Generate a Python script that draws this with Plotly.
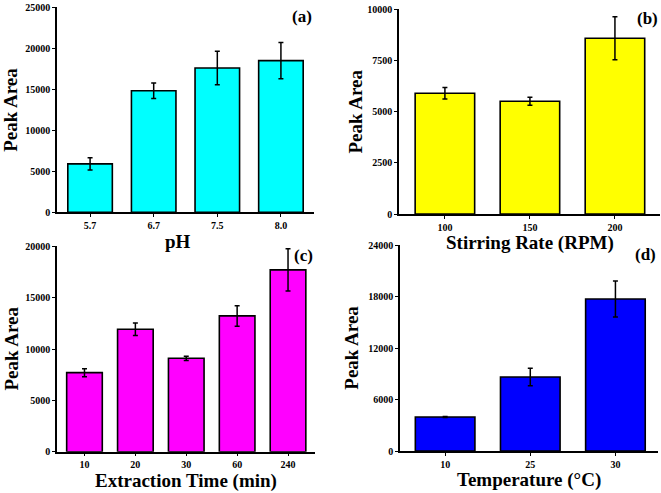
import plotly.graph_objects as go

# ---- data ----
ph_cats = ["5.7", "6.7", "7.5", "8.0"]
ph_vals = [5900, 14830, 17600, 18500]
ph_err = [750, 950, 2050, 2200]

stir_cats = ["100", "150", "200"]
stir_vals = [5890, 5500, 8570]
stir_err = [280, 190, 1050]

time_cats = ["10", "20", "30", "60", "240"]
time_vals = [7700, 11930, 9100, 13230, 17710]
time_err = [390, 600, 210, 1000, 2060]

temp_cats = ["10", "25", "30"]
temp_vals = [3970, 8640, 17740]
temp_err = [60, 1030, 2100]

W, H = 661, 493
FONT = "Liberation Serif"

fig = go.Figure()

panels = [
    (ph_cats, ph_vals, ph_err, "#00FFFF", "x", "y", (57, 314), (7.3, 212.3), 25000, 5000, [-0.52, 3.52], "pH", "(a)", 46),
    (stir_cats, stir_vals, stir_err, "#FFFF00", "x2", "y2", (399, 660), (9, 214), 10000, 2500, [-0.54, 2.53], "Stirring Rate (RPM)", "(b)", 44),
    (time_cats, time_vals, time_err, "#FF00FF", "x3", "y3", (57, 315), (246.4, 451.7), 20000, 5000, [-0.54, 4.53], "Extraction Time (min)", "(c)", 45.5),
    (temp_cats, temp_vals, temp_err, "#0000FF", "x4", "y4", (400, 658), (245.4, 451), 24000, 6000, [-0.53, 2.5], "Temperature (°C)", "(d)", 48.5),
]

annotations = []
for i, (cats, vals, err, col, xa, ya, xd, yd, ymax, dt, xr, xt, lab, yoff) in enumerate(panels):
    fig.add_trace(go.Bar(
        x=cats, y=vals, xaxis=xa, yaxis=ya, width=0.7,
        marker=dict(color=col, line=dict(color="black", width=1.6)),
        error_y=dict(type="data", array=err, visible=True, color="black", thickness=1.5, width=2.5),
        showlegend=False,
    ))
    sfx = "" if i == 0 else str(i + 1)
    axis_common = dict(showline=True, linecolor="black", linewidth=1.5, showgrid=False, zeroline=False,
                       ticks="outside", ticklen=3, tickwidth=1.2, tickcolor="black", automargin=False,
                       tickfont=dict(family=FONT, size=10, color="black", weight="bold"))
    fig.layout["xaxis" + sfx] = dict(
        domain=[xd[0] / W, xd[1] / W], anchor="y" + sfx, type="category", range=xr, **axis_common)
    fig.layout["yaxis" + sfx] = dict(
        domain=[1 - yd[1] / H, 1 - yd[0] / H], anchor="x" + sfx, range=[0, ymax], dtick=dt,
        tick0=0, tickformat="d", **axis_common)
    annotations.append(dict(text=xt, x=(xd[0] + xd[1]) / 2 / W - (0.012 if i == 0 else 0),
                            y=1 - (yd[1] + 29) / H,
                            xref="paper", yref="paper", xanchor="center", yanchor="middle", showarrow=False,
                            font=dict(family=FONT, size=19, color="black", weight="bold")))
    annotations.append(dict(text="Peak Area", x=(xd[0] - yoff) / W, y=1 - (yd[0] + yd[1]) / 2 / H,
                            xref="paper", yref="paper", xanchor="center", yanchor="middle", showarrow=False,
                            textangle=-90,
                            font=dict(family=FONT, size=19, color="black", weight="bold")))
    annotations.append(dict(text=lab, x=xd[1] / W, y=1 - (yd[0] + 9) / H,
                            xref="paper", yref="paper", xanchor="right", yanchor="middle", showarrow=False,
                            font=dict(family=FONT, size=17, color="black", weight="bold")))

fig.update_layout(
    width=W, height=H, margin=dict(l=0, r=0, t=0, b=0, autoexpand=False),
    paper_bgcolor="white", plot_bgcolor="white",
    annotations=annotations,
)

fig.write_html("out.html", config={"displayModeBar": False},
               post_script="document.body.style.margin='0';document.body.style.overflow='hidden';")
